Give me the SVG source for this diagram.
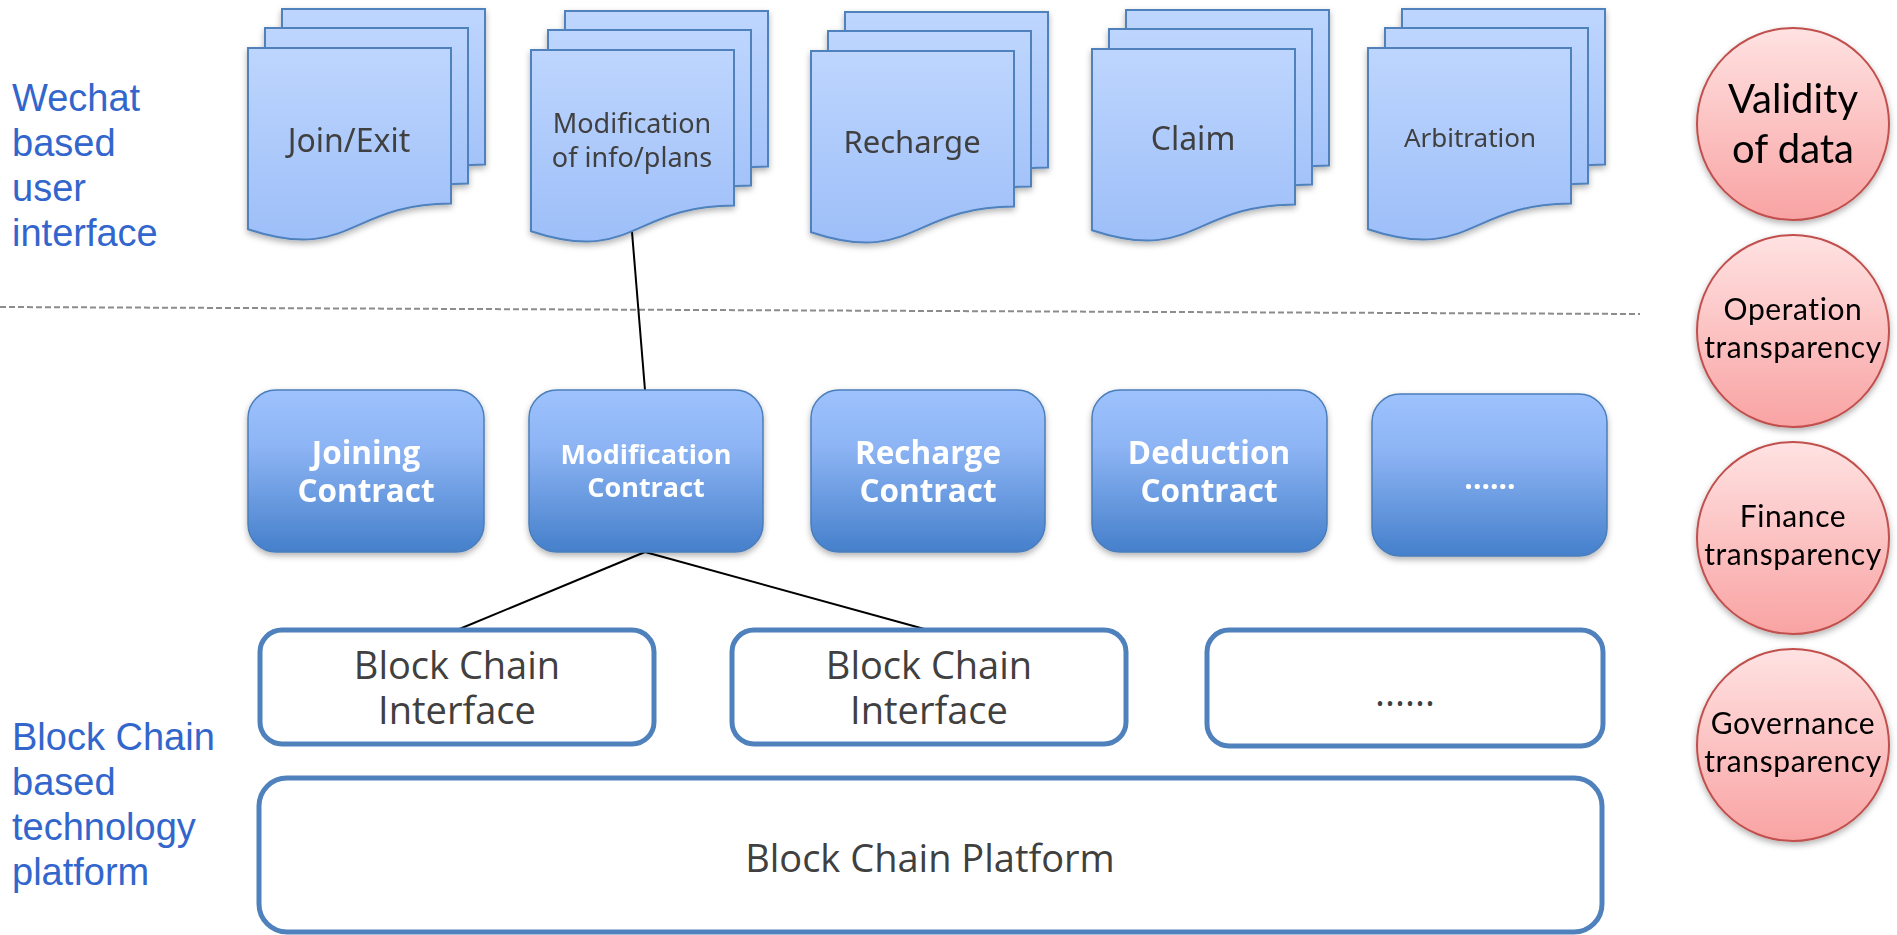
<svg xmlns="http://www.w3.org/2000/svg" xmlns:xlink="http://www.w3.org/1999/xlink" width="1897" height="935" viewBox="0 0 1897 935">
  <style>
    .layer-label { font-family: "Liberation Sans", Arial, sans-serif; font-size: 38px; fill: #3366cc; }
    .doc { fill: url(#docFill); stroke: #4f81bd; stroke-width: 2; }
    .doc-text { font-family: "Noto Sans", "Open Sans", sans-serif; fill: #404040; text-anchor: middle; }
    .contract { fill: url(#contractFill); stroke: #4a7ebb; stroke-width: 1.5; }
    .contract-text { font-family: "Open Sans", "Noto Sans", sans-serif; font-weight: bold; fill: #ffffff; text-anchor: middle; }
    .iface { fill: #ffffff; stroke: #4f81bd; stroke-width: 5; }
    .iface-text { font-family: "Open Sans", "Noto Sans", sans-serif; font-size: 38px; fill: #404040; text-anchor: middle; }
    .goal { fill: url(#goalFill); stroke: #c0504d; stroke-width: 2; }
    .goal-text { font-family: Lato, "Open Sans", sans-serif; fill: #000000; text-anchor: middle; }
    .goal-small { font-size: 30px; letter-spacing: 0.6px; }
    .link { stroke: #000000; stroke-width: 2; fill: none; }
    .divider { stroke: #8c8c8c; stroke-width: 2; stroke-dasharray: 6 3; fill: none; }
  </style>
  <defs>
    <linearGradient id="docFill" x1="0" y1="0" x2="0" y2="1">
      <stop offset="0" stop-color="#bed6fe"/>
      <stop offset="1" stop-color="#9dbef8"/>
    </linearGradient>
    <linearGradient id="contractFill" x1="0" y1="0" x2="0" y2="1">
      <stop offset="0" stop-color="#9dc2fd"/>
      <stop offset="0.35" stop-color="#8db4f4"/>
      <stop offset="1" stop-color="#4580cb"/>
    </linearGradient>
    <linearGradient id="goalFill" x1="0" y1="0" x2="0" y2="1">
      <stop offset="0" stop-color="#ffe2e2"/>
      <stop offset="1" stop-color="#f9a3a3"/>
    </linearGradient>
    <filter id="shadow" x="-10%" y="-10%" width="120%" height="125%">
      <feDropShadow dx="0" dy="3" stdDeviation="3" flood-color="#000000" flood-opacity="0.3"/>
    </filter>
    <!-- flowchart "document" outline, 203 x 194 -->
    <path id="docShape" d="M0,0 H203 V155.6 C101.5,155.6 101.5,214.9 0,181.2 Z"/>
  </defs>

  <!-- layer captions -->
  <text class="layer-label" x="12" y="111">Wechat</text>
  <text class="layer-label" x="12" y="156">based</text>
  <text class="layer-label" x="12" y="201">user</text>
  <text class="layer-label" x="12" y="246">interface</text>

  <text class="layer-label" x="12" y="750">Block Chain</text>
  <text class="layer-label" x="12" y="795">based</text>
  <text class="layer-label" x="12" y="840">technology</text>
  <text class="layer-label" x="12" y="885">platform</text>

  <!-- separator between UI and platform layers -->
  <line class="divider" x1="0" y1="307" x2="1640" y2="314"/>

  <!-- connectors -->
  <g id="connectors">
    <line class="link" x1="632" y1="232" x2="645" y2="390"/>
    <line class="link" x1="645" y1="552" x2="457" y2="630"/>
    <line class="link" x1="645" y1="552" x2="928" y2="630"/>
  </g>

  <!-- user interface document stacks -->
  <g id="doc-join" filter="url(#shadow)">
    <use xlink:href="#docShape" class="doc" transform="translate(282,9)"/>
    <use xlink:href="#docShape" class="doc" transform="translate(265,28)"/>
    <use xlink:href="#docShape" class="doc" transform="translate(248,48)"/>
    <text class="doc-text" x="349" y="152" font-size="32">Join/Exit</text>
  </g>
  <g id="doc-modification" filter="url(#shadow)">
    <use xlink:href="#docShape" class="doc" transform="translate(565,11)"/>
    <use xlink:href="#docShape" class="doc" transform="translate(548,30)"/>
    <use xlink:href="#docShape" class="doc" transform="translate(531,50)"/>
    <text class="doc-text" x="632" y="133" font-size="27">Modification</text>
    <text class="doc-text" x="632" y="167" font-size="27">of info/plans</text>
  </g>
  <g id="doc-recharge" filter="url(#shadow)">
    <use xlink:href="#docShape" class="doc" transform="translate(845,12)"/>
    <use xlink:href="#docShape" class="doc" transform="translate(828,31)"/>
    <use xlink:href="#docShape" class="doc" transform="translate(811,51)"/>
    <text class="doc-text" x="912" y="153" font-size="31">Recharge</text>
  </g>
  <g id="doc-claim" filter="url(#shadow)">
    <use xlink:href="#docShape" class="doc" transform="translate(1126,10)"/>
    <use xlink:href="#docShape" class="doc" transform="translate(1109,29)"/>
    <use xlink:href="#docShape" class="doc" transform="translate(1092,49)"/>
    <text class="doc-text" x="1193" y="150" font-size="32">Claim</text>
  </g>
  <g id="doc-arbitration" filter="url(#shadow)">
    <use xlink:href="#docShape" class="doc" transform="translate(1402,9)"/>
    <use xlink:href="#docShape" class="doc" transform="translate(1385,28)"/>
    <use xlink:href="#docShape" class="doc" transform="translate(1368,48)"/>
    <text class="doc-text" x="1470" y="147" font-size="26">Arbitration</text>
  </g>

  <!-- smart contracts -->
  <g id="contract-joining" filter="url(#shadow)">
    <rect class="contract" x="248" y="390" width="236" height="162" rx="28"/>
    <text class="contract-text" x="366" y="464" font-size="31.5">Joining</text>
    <text class="contract-text" x="366" y="502" font-size="31.5">Contract</text>
  </g>
  <g id="contract-modification" filter="url(#shadow)">
    <rect class="contract" x="529" y="390" width="234" height="162" rx="28"/>
    <text class="contract-text" x="646" y="464" font-size="27">Modification</text>
    <text class="contract-text" x="646" y="497" font-size="27">Contract</text>
  </g>
  <g id="contract-recharge" filter="url(#shadow)">
    <rect class="contract" x="811" y="390" width="234" height="162" rx="28"/>
    <text class="contract-text" x="928" y="464" font-size="31.5">Recharge</text>
    <text class="contract-text" x="928" y="502" font-size="31.5">Contract</text>
  </g>
  <g id="contract-deduction" filter="url(#shadow)">
    <rect class="contract" x="1092" y="390" width="235" height="162" rx="28"/>
    <text class="contract-text" x="1209" y="464" font-size="31.5">Deduction</text>
    <text class="contract-text" x="1209" y="502" font-size="31.5">Contract</text>
  </g>
  <g id="contract-more" filter="url(#shadow)">
    <rect class="contract" x="1372" y="394" width="235" height="162" rx="28"/>
    <text class="contract-text" x="1490" y="489" font-size="30">......</text>
  </g>

  <!-- block chain interfaces -->
  <g id="iface-1">
    <rect class="iface" x="260" y="630" width="394" height="114" rx="22"/>
    <text class="iface-text" x="457" y="679">Block Chain</text>
    <text class="iface-text" x="457" y="724">Interface</text>
  </g>
  <g id="iface-2">
    <rect class="iface" x="732" y="630" width="394" height="114" rx="22"/>
    <text class="iface-text" x="929" y="679">Block Chain</text>
    <text class="iface-text" x="929" y="724">Interface</text>
  </g>
  <g id="iface-more">
    <rect class="iface" x="1207" y="630" width="396" height="116" rx="22"/>
    <text class="iface-text" x="1405" y="706">......</text>
  </g>

  <!-- platform -->
  <g id="platform">
    <rect class="iface" x="259" y="778" width="1343" height="154" rx="28"/>
    <text class="iface-text" x="930" y="872" font-size="39">Block Chain Platform</text>
  </g>

  <!-- goals -->
  <g id="goal-validity" filter="url(#shadow)">
    <circle class="goal" cx="1793" cy="124" r="96"/>
    <text class="goal-text" x="1793" y="113" font-size="40">Validity</text>
    <text class="goal-text" x="1793" y="163" font-size="40">of data</text>
  </g>
  <g id="goal-operation" filter="url(#shadow)">
    <circle class="goal" cx="1793" cy="331" r="96"/>
    <text class="goal-text goal-small" x="1793" y="320">Operation</text>
    <text class="goal-text goal-small" x="1793" y="358">transparency</text>
  </g>
  <g id="goal-finance" filter="url(#shadow)">
    <circle class="goal" cx="1793" cy="538" r="96"/>
    <text class="goal-text goal-small" x="1793" y="527">Finance</text>
    <text class="goal-text goal-small" x="1793" y="565">transparency</text>
  </g>
  <g id="goal-governance" filter="url(#shadow)">
    <circle class="goal" cx="1793" cy="745" r="96"/>
    <text class="goal-text goal-small" x="1793" y="734">Governance</text>
    <text class="goal-text goal-small" x="1793" y="772">transparency</text>
  </g>
</svg>
